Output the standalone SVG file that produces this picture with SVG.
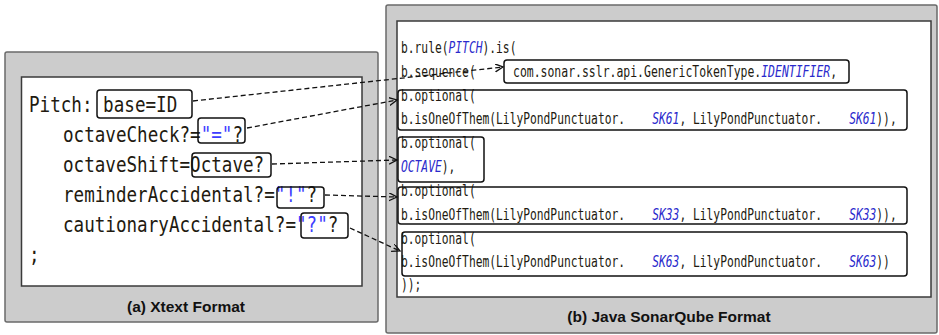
<svg xmlns="http://www.w3.org/2000/svg" width="939" height="335" viewBox="0 0 939 335">
<style>
.panel{fill:#cccccc;stroke:#6a6a6a;stroke-width:1.5}
.inner{fill:#ffffff;stroke:#3a3a3a;stroke-width:1.5}
.box{fill:none;stroke:#111;stroke-width:1.5}
.lt{font-family:"DejaVu Sans Mono","Liberation Mono",monospace;font-size:21px;fill:#221a10}
.rt{font-family:"DejaVu Sans Mono","Liberation Mono",monospace;font-size:16px;fill:#221a10}
.str{fill:#3d3dff}
.kw{fill:#2a2acc;font-style:italic}
.cap{font-family:"Liberation Sans",Arial,sans-serif;font-weight:bold;font-size:15.5px;fill:#111;text-anchor:middle}
.conn{fill:none;stroke:#111;stroke-width:1.3;stroke-dasharray:5,3;marker-end:url(#arr)}
</style>
<defs>
<marker id="arr" markerUnits="userSpaceOnUse" markerWidth="12" markerHeight="12" refX="8" refY="4" orient="auto">
<path d="M0,0 L8,4 L0,8" fill="none" stroke="#111" stroke-width="1.3"/>
</marker>
</defs>

<g id="panel-a">
<rect class="panel" x="5" y="52" width="373" height="270" rx="2"/>
<rect class="inner" x="21.5" y="77" width="340.5" height="209"/>
<text class="cap" x="186" y="312">(a) Xtext Format</text>
</g>

<g id="panel-b">
<rect class="panel" x="386" y="5" width="551" height="328" rx="2"/>
<rect class="inner" x="397" y="21" width="534" height="276"/>
<text class="cap" x="669" y="322">(b) Java SonarQube Format</text>
</g>

<g id="xtext-code" transform="scale(0.8384,1)">
<text class="lt" x="34.59" y="112" xml:space="preserve">Pitch: base=ID</text>
<text class="lt" x="75.14" y="142">octaveCheck?=<tspan class="str">"="</tspan>?</text>
<text class="lt" x="75.14" y="172">octaveShift=Octave?</text>
<text class="lt" x="75.14" y="202">reminderAccidental?=<tspan class="str">"!"</tspan>?</text>
<text class="lt" x="75.14" y="232">cautionaryAccidental?=<tspan class="str">"?"</tspan>?</text>
<text class="lt" x="34.59" y="262">;</text>
</g>

<g id="node-baseID"><rect class="box" x="97" y="90" width="95" height="28" rx="3"/></g>
<g id="node-octaveCheck"><rect class="box" x="198" y="118" width="47" height="25" rx="3"/></g>
<g id="node-octaveShift"><rect class="box" x="192" y="153" width="79" height="24" rx="3"/></g>
<g id="node-reminder"><rect class="box" x="277" y="187" width="47" height="21" rx="3"/></g>
<g id="node-cautionary"><rect class="box" x="301" y="213" width="47" height="25" rx="3"/></g>

<g id="java-code" transform="scale(0.7059,1)">
<text class="rt" x="568.07" y="53">b.rule(<tspan class="kw">PITCH</tspan>).is(</text>
<text class="rt" x="568.07" y="77">b.sequence(</text>
<text class="rt" x="568.07" y="101">b.optional(</text>
<text class="rt" x="568.07" y="124" xml:space="preserve">b.isOneOfThem(LilyPondPunctuator.    <tspan class="kw">SK61</tspan>, LilyPondPunctuator.    <tspan class="kw">SK61</tspan>)),</text>
<text class="rt" x="568.07" y="148">b.optional(</text>
<text class="rt" x="568.07" y="172"><tspan class="kw">OCTAVE</tspan>),</text>
<text class="rt" x="568.07" y="196">b.optional(</text>
<text class="rt" x="568.07" y="220" xml:space="preserve">b.isOneOfThem(LilyPondPunctuator.    <tspan class="kw">SK33</tspan>, LilyPondPunctuator.    <tspan class="kw">SK33</tspan>)),</text>
<text class="rt" x="568.07" y="244">b.optional(</text>
<text class="rt" x="568.07" y="267" xml:space="preserve">b.isOneOfThem(LilyPondPunctuator.    <tspan class="kw">SK63</tspan>, LilyPondPunctuator.    <tspan class="kw">SK63</tspan>))</text>
<text class="rt" x="568.07" y="290">));</text>
</g>

<g id="node-identifier">
<rect class="box" x="504" y="60" width="345" height="23" rx="3"/>
<g transform="scale(0.7163,1)">
<text class="rt" x="716.2" y="77">com.sonar.sslr.api.GenericTokenType.<tspan class="kw">IDENTIFIER</tspan>,</text>
</g>
</g>
<g id="node-opt-sk61"><rect class="box" x="398" y="90" width="509" height="40" rx="3"/></g>
<g id="node-opt-octave"><rect class="box" x="398" y="137" width="86" height="45" rx="3"/></g>
<g id="node-opt-sk33"><rect class="box" x="398" y="187" width="509" height="37" rx="3"/></g>
<g id="node-opt-sk63"><rect class="box" x="402" y="232" width="505" height="44" rx="3"/></g>

<g id="connectors">
<path class="conn" d="M193,101 L503,67"/>
<path class="conn" d="M247,128 L397,100"/>
<path class="conn" d="M272,164 L397,160"/>
<path class="conn" d="M325,195 L397,197"/>
<path class="conn" d="M350,228 L400,251"/>
</g>
</svg>
